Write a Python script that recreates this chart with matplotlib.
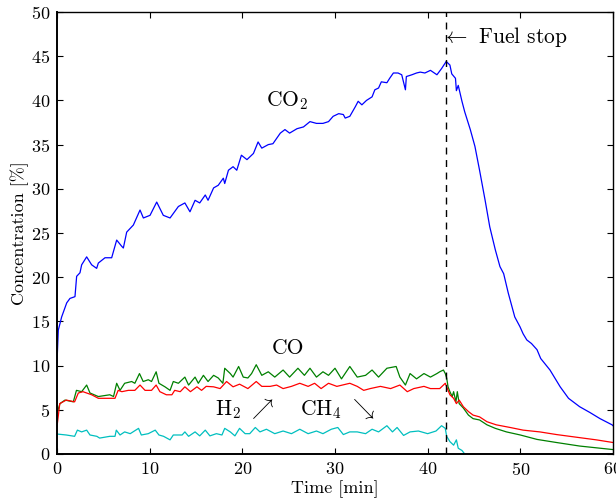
import numpy as np
import matplotlib
matplotlib.use("Agg")
from matplotlib import pyplot as plt

# Values (time in min, concentration in %)
co2_t = [0.0, 0.14, 0.5, 1.05, 1.4, 1.94, 2.12, 2.48, 2.66, 3.2, 3.74, 4.28, 4.46, 5.18, 5.9,
         6.44, 6.98, 7.16, 7.52, 8.24, 8.96, 9.32, 10.04, 10.76, 11.47, 12.2, 13.1, 13.8, 14.35,
         14.9, 15.4, 16.0, 16.3, 16.9, 17.4, 17.95, 18.1, 18.5, 19.0, 19.4, 19.9, 20.5, 21.2,
         21.7, 22.1, 22.8, 23.3, 24.1, 24.6, 25.1, 25.9, 26.6, 27.3, 28.0, 28.7, 29.3, 29.8,
         30.4, 30.9, 31.1, 31.6, 32.2, 32.5, 32.9, 33.4, 34.0, 34.3, 34.7, 35.0, 35.6, 35.9,
         36.3, 36.8, 37.2, 37.6, 37.7, 38.3, 38.8, 39.2, 39.7, 40.3, 41.0, 41.5, 42.0, 42.4,
         42.6, 43.0, 43.1, 43.3, 43.7, 44.0, 44.6, 45.1, 45.6, 46.2, 46.7, 47.3, 47.8, 48.2,
         48.7, 49.4, 49.96, 50.3, 50.7, 51.2, 51.8, 52.2, 53.2, 54.3, 55.2, 56.4, 57.5, 58.6,
         59.9, 60.0]
co2_c = [10.3, 14.0, 15.5, 17.1, 17.6, 17.8, 20.1, 20.5, 21.4, 22.3, 21.4, 21.0, 21.6, 22.2, 22.2,
         24.2, 23.5, 23.3, 25.1, 25.9, 27.6, 26.7, 27.0, 28.5, 27.0, 26.7, 28.0, 28.4, 27.4,
         28.7, 28.4, 29.3, 28.7, 30.1, 30.4, 31.2, 30.6, 32.1, 32.5, 32.1, 33.8, 33.3, 34.0,
         35.3, 34.6, 35.0, 35.1, 36.3, 36.7, 36.3, 36.8, 37.0, 37.6, 37.4, 37.4, 37.6, 38.2,
         38.5, 38.4, 38.0, 38.2, 39.3, 39.9, 39.5, 40.0, 40.4, 41.2, 41.4, 42.1, 42.0, 42.5,
         43.1, 43.1, 42.9, 41.2, 42.7, 42.9, 43.1, 43.2, 43.1, 43.4, 42.9, 43.6, 44.4, 44.0,
         43.0, 42.5, 41.1, 41.7, 39.9, 38.7, 36.7, 34.8, 32.1, 28.7, 25.7, 23.1, 21.2, 20.4,
         18.2, 15.5, 14.4, 13.6, 12.9, 12.5, 11.8, 10.8, 9.5, 7.6, 6.3, 5.35, 4.7, 4.0,
         3.3, 3.2]

co_t = [0.0, 0.32, 0.86, 1.76, 2.1, 2.66, 3.2, 3.56, 4.46, 5.7, 6.1, 6.44, 6.8, 7.3, 8.06, 8.4,
        8.9, 9.3, 9.85, 10.2, 10.7, 11.0, 11.65, 12.2, 12.55, 13.1, 13.8, 14.2, 14.9, 15.25,
        15.8, 16.3, 16.9, 17.4, 17.9, 18.1, 18.7, 19.0, 19.6, 20.1, 20.6, 21.0, 21.5, 22.1,
        22.8, 23.5, 24.4, 25.1, 26.0, 26.7, 27.3, 28.0, 28.7, 29.3, 30.0, 30.7, 31.6, 32.4,
        33.3, 34.0, 34.7, 35.6, 36.6, 37.0, 37.6, 38.1, 38.8, 39.6, 40.3, 41.0, 41.3, 41.7,
        41.9, 42.05, 42.2, 42.4, 42.65, 42.8, 43.05, 43.2, 43.4, 43.85, 44.4, 44.9, 45.6, 46.4,
        47.3, 48.5, 50.0, 51.8, 53.9, 56.4, 58.2, 60.0]
co_c = [4.6, 5.7, 6.1, 5.9, 7.2, 7.05, 7.8, 6.9, 6.5, 6.7, 6.5, 8.0, 7.2, 8.0, 8.2, 8.0,
        9.1, 8.2, 8.4, 8.2, 9.3, 8.0, 7.6, 7.2, 8.2, 8.0, 8.7, 7.8, 8.7, 8.0,
        8.9, 8.2, 8.9, 8.6, 8.0, 9.7, 9.1, 8.7, 9.9, 8.7, 8.6, 9.1, 10.1, 8.9,
        9.3, 8.7, 9.5, 8.7, 9.7, 8.9, 9.7, 8.7, 9.3, 8.9, 9.7, 8.5, 9.9, 8.7,
        8.9, 9.5, 8.7, 9.7, 9.9, 8.7, 7.8, 9.1, 8.5, 9.1, 8.7, 9.1, 9.3, 9.5,
        9.1, 8.6, 7.6, 7.05, 6.5, 7.05, 5.9, 7.05, 5.7, 5.2, 4.4, 4.0, 3.85, 3.3,
        2.9, 2.5, 2.15, 1.65, 1.3, 0.9, 0.7, 0.5]

h2_t = [0.0, 0.3, 1.0, 1.9, 2.3, 2.8, 3.2, 3.74, 4.46, 5.9, 6.26, 6.6, 7.0, 7.7, 8.4, 8.96,
        9.5, 10.2, 10.7, 11.1, 11.8, 12.4, 12.7, 13.3, 13.8, 14.4, 15.1, 15.6, 16.1, 16.9,
        17.6, 18.3, 19.0, 19.7, 20.6, 21.5, 22.1, 23.0, 23.7, 24.4, 25.3, 26.2, 27.1, 27.8,
        28.5, 29.3, 30.2, 31.6, 32.4, 33.1, 33.8, 34.9, 36.0, 37.0, 37.8, 38.5, 39.6, 40.3,
        41.3, 41.9, 42.05, 42.4, 42.8, 43.1, 43.4, 43.85, 44.4, 44.9, 45.6, 46.4, 47.4, 48.9,
        50.3, 52.1, 53.9, 56.4, 58.2, 60.0]
h2_c = [3.1, 5.7, 6.1, 5.9, 6.9, 7.05, 6.9, 6.7, 6.3, 6.3, 6.3, 7.2, 7.05, 7.2, 7.2, 7.8,
        7.2, 7.2, 7.8, 7.05, 6.7, 6.7, 7.2, 7.05, 7.6, 7.05, 7.6, 7.2, 7.65, 7.6,
        7.4, 8.2, 7.6, 7.9, 7.4, 8.2, 7.65, 7.65, 7.8, 7.4, 7.65, 8.0, 7.65, 8.0,
        7.4, 8.0, 7.65, 8.0, 7.65, 7.2, 7.4, 7.65, 7.4, 7.8, 7.05, 7.4, 7.65, 7.4,
        7.4, 8.0, 7.6, 6.7, 6.3, 5.7, 6.1, 5.35, 4.8, 4.4, 4.2, 3.65, 3.3, 3.0,
        2.7, 2.5, 2.2, 1.85, 1.6, 1.3]

ch4_t = [0.0, 1.0, 1.9, 2.2, 2.66, 3.2, 3.56, 4.3, 4.6, 5.7, 6.26, 6.4, 6.8, 7.3, 7.9, 8.8,
         9.1, 9.85, 10.6, 11.0, 11.5, 12.2, 12.55, 13.5, 13.8, 14.2, 14.9, 15.4, 16.0, 16.5,
         17.2, 17.8, 18.1, 18.7, 19.2, 19.7, 20.3, 20.8, 21.4, 21.9, 22.6, 23.5, 24.4, 25.3,
         26.2, 27.1, 28.0, 28.7, 29.6, 30.3, 30.9, 31.6, 32.4, 33.3, 34.0, 34.7, 35.6, 36.2,
         36.7, 37.4, 38.1, 39.0, 40.0, 40.9, 41.5, 41.9, 42.05, 42.4, 42.8, 43.1, 43.3, 43.7,
         44.0]
ch4_c = [2.26, 2.15, 2.0, 2.7, 2.5, 2.7, 2.15, 2.0, 1.8, 2.0, 2.0, 2.7, 2.15, 2.5, 2.3, 2.9,
         2.15, 2.3, 2.7, 2.15, 2.0, 1.6, 2.15, 2.15, 2.5, 2.0, 2.5, 2.05, 2.7, 2.05,
         2.3, 2.15, 2.9, 2.5, 2.05, 2.9, 2.3, 2.3, 3.0, 2.5, 2.8, 2.3, 2.6, 2.3,
         2.8, 2.3, 2.6, 2.3, 2.8, 3.0, 2.2, 2.5, 2.5, 2.3, 2.8, 2.5, 3.2, 2.5,
         3.0, 2.1, 2.5, 2.6, 2.3, 2.6, 3.2, 2.9, 2.0, 1.4, 1.0, 1.6, 0.65, 0.4,
         0.0]

fuel_stop = 42.0
x_ticks = [0, 10, 20, 30, 40, 50, 60]
y_ticks = [0, 5, 10, 15, 20, 25, 30, 35, 40, 45, 50]

plt.rcParams['font.family'] = 'serif'
plt.rcParams['font.serif'] = ['cmr10']
plt.rcParams['mathtext.fontset'] = 'cm'
plt.rcParams['axes.formatter.use_mathtext'] = True

fig = plt.figure(figsize=(6.16, 4.99), dpi=100)
ax = fig.add_axes([57/616, 45/499, 556/616, 442/499])

lw = 0.9
ax.plot(co2_t, co2_c, color='b', lw=lw)
ax.plot(co_t, co_c, color='g', lw=lw)
ax.plot(h2_t, h2_c, color='r', lw=lw)
ax.plot(ch4_t, ch4_c, color='c', lw=lw)
ax.axvline(fuel_stop, color='k', ls=(0, (5, 4)), lw=1)

#labels on the curves
ax.text(24.8, 40, r'CO$_2$', fontsize=15.5, ha='center', va='center')
ax.text(24.9, 12.0, 'CO', fontsize=15.5, ha='center', va='center')
ax.text(17.0, 5.1, r'H$_2$ $\nearrow$', fontsize=15.5, ha='left', va='center')
ax.text(26.2, 5.1, r'CH$_4$ $\searrow$', fontsize=15.5, ha='left', va='center')
ax.text(41.55, 47.2, r'$\leftarrow$ Fuel stop', fontsize=15.5, ha='left', va='center')

ax.set_xlim(0, 60)
ax.set_ylim(0, 50)
ax.set_xticks(x_ticks)
ax.set_yticks(y_ticks)
ax.tick_params(direction='in', top=True, right=True, length=4, labelsize=13, pad=5)
ax.set_xlabel('Time [min]', fontsize=13, labelpad=2)
ax.set_ylabel('Concentration [%]', fontsize=13, labelpad=1)
for side in ['left', 'bottom']:
    ax.spines[side].set_linewidth(1.4)
for side in ['top', 'right']:
    ax.spines[side].set_linewidth(1.0)

fig.savefig('out.png', dpi=100)
